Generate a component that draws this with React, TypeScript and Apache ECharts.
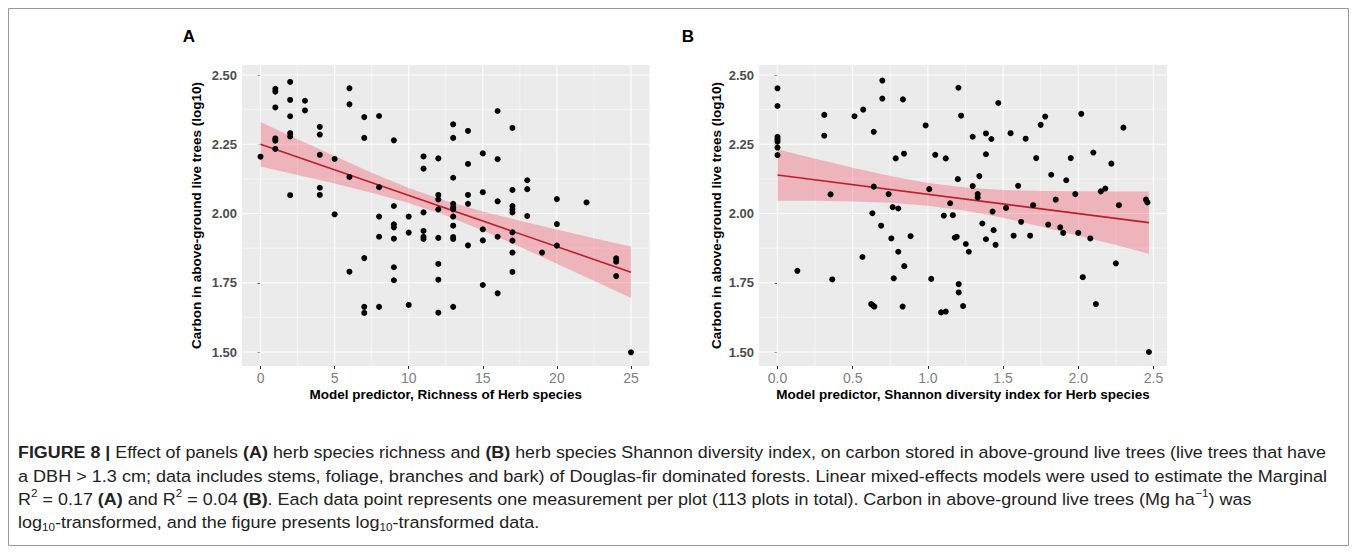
import React, { useEffect, useRef } from "react";
import * as echarts from "echarts";

// ---------- data ----------
const richnessTicks = [0, 5, 10, 15, 20, 25];
const richnessMinor = [2.5, 7.5, 12.5, 17.5, 22.5];
const shannonTicks = [0, 0.5, 1, 1.5, 2, 2.5];
const shannonMinor = [0.25, 0.75, 1.25, 1.75, 2.25];
const carbonTicks = [1.5, 1.75, 2, 2.25, 2.5];
const carbonMinor = [1.625, 1.875, 2.125, 2.375];

const richnessPoints: [number, number][] = [
  [0, 2.205],
  [1, 2.45], [1, 2.44], [1, 2.383], [1, 2.271], [1, 2.263], [1, 2.233],
  [2, 2.475], [2, 2.41], [2, 2.351], [2, 2.29], [2, 2.278], [2, 2.066],
  [3, 2.407], [3, 2.372],
  [4, 2.313], [4, 2.285], [4, 2.212], [4, 2.093], [4, 2.067],
  [5, 2.197], [5, 1.997],
  [6, 2.452], [6, 2.394], [6, 2.132], [6, 1.79],
  [7, 2.348], [7, 2.273], [7, 1.839], [7, 1.663], [7, 1.641],
  [8, 2.352], [8, 2.095], [8, 1.989], [8, 1.916], [8, 1.663],
  [9, 2.264], [9, 2.027], [9, 1.961], [9, 1.95], [9, 1.909], [9, 1.806], [9, 1.759],
  [10, 1.989], [10, 1.931], [10, 1.67],
  [11, 2.206], [11, 2.162], [11, 2.004], [11, 1.937], [11, 1.916], [11, 1.908],
  [12, 2.199], [12, 2.067], [12, 2.051], [12, 2.015], [12, 1.912], [12, 1.818], [12, 1.761], [12, 1.642],
  [13, 2.322], [13, 2.273], [13, 2.129], [13, 2.035], [13, 2.022], [13, 2.015], [13, 1.989], [13, 1.956], [13, 1.915], [13, 1.908], [13, 1.663],
  [14, 2.298], [14, 2.179], [14, 2.067], [14, 2.035], [14, 1.885],
  [15, 2.217], [15, 2.077], [15, 1.943], [15, 1.903], [15, 1.742],
  [16, 2.37], [16, 2.196], [16, 2.044], [16, 1.916], [16, 1.712],
  [17, 2.309], [17, 2.085], [17, 2.027], [17, 2.015], [17, 2.004], [17, 1.932], [17, 1.902], [17, 1.859], [17, 1.789],
  [18, 2.12], [18, 2.088], [18, 1.991],
  [19, 1.859],
  [20, 2.052], [20, 1.962], [20, 1.884],
  [22, 2.04],
  [24, 1.838], [24, 1.826], [24, 1.774],
  [25, 1.499],
];

const shannonPoints: [number, number][] = [
  [0, 2.452], [0, 2.388], [0, 2.277], [0, 2.268], [0, 2.259], [0, 2.238], [0, 2.211],
  [0.132, 1.793], [0.311, 2.356], [0.311, 2.281], [0.353, 2.069], [0.364, 1.762],
  [0.512, 2.351], [0.565, 1.843], [0.57, 2.375], [0.623, 1.673], [0.636, 1.667], [0.644, 1.664],
  [0.631, 2.001], [0.64, 2.295], [0.64, 2.097], [0.689, 1.956], [0.697, 2.48], [0.697, 2.415],
  [0.739, 2.07], [0.757, 1.91], [0.766, 2.023], [0.773, 1.766], [0.786, 2.199], [0.803, 2.018],
  [0.803, 1.862], [0.832, 1.664], [0.834, 2.412], [0.841, 2.216], [0.843, 1.81], [0.885, 1.918],
  [0.985, 2.318], [1.009, 2.088], [1.022, 1.764], [1.049, 2.212], [1.088, 1.643], [1.106, 1.992],
  [1.119, 2.199], [1.119, 1.646], [1.148, 2.037], [1.166, 1.994], [1.179, 1.913], [1.192, 1.916],
  [1.199, 2.124], [1.203, 2.454], [1.205, 1.745], [1.205, 1.715], [1.221, 2.353], [1.234, 1.666],
  [1.252, 1.89], [1.272, 1.862], [1.298, 2.277], [1.298, 2.099], [1.331, 2.07], [1.331, 2.058],
  [1.342, 2.135], [1.362, 1.964], [1.386, 2.289], [1.386, 2.214], [1.386, 1.907], [1.422, 2.269],
  [1.43, 2.007], [1.437, 1.94], [1.45, 1.887], [1.468, 2.399],
  [1.52, 2.02], [1.55, 2.29], [1.57, 1.92], [1.6, 2.1], [1.62, 1.97], [1.65, 2.27], [1.68, 1.92],
  [1.7, 2.03], [1.72, 2.2], [1.75, 2.32], [1.78, 2.35], [1.8, 1.96], [1.82, 2.14], [1.85, 2.05],
  [1.88, 1.95], [1.9, 1.93], [1.92, 2.12], [1.95, 2.2], [1.98, 2.07], [2.0, 1.93], [2.02, 2.36],
  [2.03, 1.77], [2.08, 1.91], [2.1, 2.22], [2.117, 1.673], [2.15, 2.08], [2.18, 2.09], [2.22, 2.18],
  [2.25, 1.82], [2.27, 2.03], [2.3, 2.31], [2.45, 2.05], [2.46, 2.04], [2.47, 1.5],
];

const fitRichnessX = [0, 25];
const fitRichnessY = [2.25, 1.788];
const bandRichnessX = [0, 2.5, 5, 7.5, 10, 12.5, 15, 17.5, 20, 22.5, 25];
const bandRichnessUpper = [2.33, 2.268, 2.208, 2.147, 2.092, 2.045, 2.007, 1.974, 1.942, 1.911, 1.881];
const bandRichnessLower = [2.17, 2.139, 2.108, 2.075, 2.038, 1.993, 1.939, 1.88, 1.819, 1.757, 1.695];

const fitShannonX = [0, 2.47];
const fitShannonY = [2.139, 1.967];
const bandShannonX = [0, 0.25, 0.5, 0.75, 1, 1.25, 1.5, 1.75, 2, 2.25, 2.47];
const bandShannonUpper = [2.232, 2.198, 2.165, 2.135, 2.11, 2.094, 2.085, 2.081, 2.08, 2.079, 2.079];
const bandShannonLower = [2.046, 2.046, 2.043, 2.039, 2.028, 2.01, 1.985, 1.953, 1.92, 1.886, 1.855];

const xTitleA = "Model predictor, Richness of Herb species";
const xTitleB = "Model predictor, Shannon diversity index for Herb species";
const yTitle = "Carbon in above-ground live trees (log10)";

type Seg = [string, string];
const captionLines: Seg[][] = [
  [["b", "FIGURE 8 | "], ["n", "Effect of panels "], ["b", "(A)"], ["n", " herb species richness and "], ["b", "(B)"], ["n", " herb species Shannon diversity index, on carbon stored in above-ground live trees (live trees that have"]],
  [["n", "a DBH > 1.3 cm; data includes stems, foliage, branches and bark) of Douglas-fir dominated forests. Linear mixed-effects models were used to estimate the Marginal"]],
  [["n", "R"], ["sup", "2"], ["n", " = 0.17 "], ["b", "(A)"], ["n", " and R"], ["sup", "2"], ["n", " = 0.04 "], ["b", "(B)"], ["n", ". Each data point represents one measurement per plot (113 plots in total). Carbon in above-ground live trees (Mg ha"], ["sup", "\u22121"], ["n", ") was"]],
  [["n", "log"], ["sub", "10"], ["n", "-transformed, and the figure presents log"], ["sub", "10"], ["n", "-transformed data."]],
];

// ---------- layout ----------
const FONT = "Liberation Sans, Arial, sans-serif";
const Y_MIN = 1.4495;
const Y_MAX = 2.5361;
const gridA = { left: 242, top: 65, width: 407.5, height: 301 };
const gridB = { left: 759, top: 65, width: 408, height: 301 };
const CAP_SIZE = 17;
const capStyles: Record<string, { size: number; weight: string }> = {
  n: { size: CAP_SIZE, weight: "normal" },
  b: { size: CAP_SIZE, weight: "bold" },
  sup: { size: 11, weight: "normal" },
  sub: { size: 11, weight: "normal" },
};

function measureLine(segs: Seg[]): number {
  const c = document.createElement("canvas").getContext("2d");
  if (!c) return 1;
  let w = 0;
  for (const [k, t] of segs) {
    const s = capStyles[k];
    c.font = `${s.weight} ${s.size}px "Liberation Sans"`;
    w += c.measureText(t).width;
  }
  return w;
}

function gridData(vMajor: number[], vMinor: number[], hMajor: number[], hMinor: number[], xMid: number) {
  const ym = (Y_MIN + Y_MAX) / 2;
  return [
    ...vMinor.map((v) => [v, ym, 1]),
    ...hMinor.map((v) => [xMid, v, 3]),
    ...vMajor.map((v) => [v, ym, 0]),
    ...hMajor.map((v) => [xMid, v, 2]),
  ];
}

const gridRender = (params: any, api: any) => {
  const k = api.value(2);
  const cs = params.coordSys;
  const p = api.coord([api.value(0), api.value(1)]);
  const w = k % 2 === 0 ? 1.1 : 0.55;
  if (k < 2) {
    return { type: "line", shape: { x1: p[0], y1: cs.y, x2: p[0], y2: cs.y + cs.height }, style: { stroke: "#ffffff", lineWidth: w } };
  }
  return { type: "line", shape: { x1: cs.x, y1: p[1], x2: cs.x + cs.width, y2: p[1] }, style: { stroke: "#ffffff", lineWidth: w } };
};

const bandRender = (xs: number[], up: number[], lo: number[]) => (params: any, api: any) => {
  const pts: number[][] = [];
  for (let i = 0; i < xs.length; i++) pts.push(api.coord([xs[i], up[i]]));
  for (let i = xs.length - 1; i >= 0; i--) pts.push(api.coord([xs[i], lo[i]]));
  return { type: "polygon", shape: { points: pts }, style: { fill: "rgba(242, 55, 75, 0.3)" } };
};

function xAxis(gi: number, min: number, max: number, ticks: number[], fmt: (v: number) => string) {
  return {
    type: "value", gridIndex: gi, min, max,
    axisLine: { show: false },
    splitLine: { show: false },
    axisTick: { show: true, customValues: ticks, length: 3, lineStyle: { color: "#333", width: 1 } },
    axisLabel: { customValues: ticks, formatter: fmt, color: "#808080", fontSize: 14, fontFamily: FONT, margin: 5 },
  };
}
function yAxis(gi: number) {
  return {
    type: "value", gridIndex: gi, min: Y_MIN, max: Y_MAX,
    axisLine: { show: false },
    splitLine: { show: false },
    axisTick: { show: true, customValues: carbonTicks, length: 3, lineStyle: { color: "#333", width: 1 } },
    axisLabel: { customValues: carbonTicks, formatter: (v: number) => v.toFixed(2), color: "#4d4d4d", fontWeight: "bold", fontSize: 13, fontFamily: FONT, margin: 5 },
  };
}

export default function App() {
  const ref = useRef<HTMLDivElement>(null);
  useEffect(() => {
    if (!ref.current) return;
    const chart = echarts.init(ref.current, undefined, { renderer: "svg" });

    const w1 = measureLine(captionLines[0]);
    const w2 = measureLine(captionLines[1]);
    const s1 = 1309 / w1;
    const s2 = 1310 / w2;
    const sAvg = (s1 + s2) / 2;
    const scales = [s1, s2, sAvg, sAvg];
    const capY = [452, 476, 499, 522];
    const rich = {
      n: { fontSize: CAP_SIZE, fontFamily: FONT, fill: "#222", lineHeight: 22 },
      b: { fontSize: CAP_SIZE, fontFamily: FONT, fontWeight: "bold", fill: "#222", lineHeight: 22 },
      sup: { fontSize: 11, fontFamily: FONT, fill: "#222", lineHeight: 11, verticalAlign: "top" },
      sub: { fontSize: 11, fontFamily: FONT, fill: "#222", lineHeight: 11, verticalAlign: "bottom" },
    };
    const captionGraphics = captionLines.map((segs, i) => ({
      type: "text",
      x: 18,
      y: capY[i],
      scaleX: scales[i],
      style: {
        text: segs.map(([k, t]) => `{${k}|${t}}`).join(""),
        rich,
        textAlign: "left",
        textVerticalAlign: "middle",
      },
    }));

    const titleStyle = { fontFamily: FONT, fontWeight: "bold", fontSize: 13.5, fill: "#000", textAlign: "center", textVerticalAlign: "middle" };

    const option: any = {
      animation: false,
      backgroundColor: "#ffffff",
      grid: [
        { ...gridA, backgroundColor: "#EBEBEB", show: true, borderWidth: 0 },
        { ...gridB, backgroundColor: "#EBEBEB", show: true, borderWidth: 0 },
      ],
      xAxis: [
        xAxis(0, -1.25, 26.25, richnessTicks, (v: number) => String(v)),
        xAxis(1, -0.123, 2.59, shannonTicks, (v: number) => v.toFixed(1)),
      ],
      yAxis: [yAxis(0), yAxis(1)],
      series: [
        { type: "custom", xAxisIndex: 0, yAxisIndex: 0, z: 1, silent: true, renderItem: gridRender, data: gridData(richnessTicks, richnessMinor, carbonTicks, carbonMinor, 12.5) },
        { type: "custom", xAxisIndex: 1, yAxisIndex: 1, z: 1, silent: true, renderItem: gridRender, data: gridData(shannonTicks, shannonMinor, carbonTicks, carbonMinor, 1.2) },
        { type: "custom", xAxisIndex: 0, yAxisIndex: 0, z: 2, silent: true, renderItem: bandRender(bandRichnessX, bandRichnessUpper, bandRichnessLower), data: [[bandRichnessX[0], bandRichnessUpper[0]]] },
        { type: "custom", xAxisIndex: 1, yAxisIndex: 1, z: 2, silent: true, renderItem: bandRender(bandShannonX, bandShannonUpper, bandShannonLower), data: [[bandShannonX[0], bandShannonUpper[0]]] },
        { type: "line", xAxisIndex: 0, yAxisIndex: 0, z: 3, showSymbol: false, symbol: "none", lineStyle: { color: "#BE1E2A", width: 1.6 }, data: fitRichnessX.map((x, i) => [x, fitRichnessY[i]]) },
        { type: "line", xAxisIndex: 1, yAxisIndex: 1, z: 3, showSymbol: false, symbol: "none", lineStyle: { color: "#BE1E2A", width: 1.6 }, data: fitShannonX.map((x, i) => [x, fitShannonY[i]]) },
        { type: "scatter", xAxisIndex: 0, yAxisIndex: 0, z: 4, symbolSize: 6, itemStyle: { color: "#000", opacity: 1 }, data: richnessPoints },
        { type: "scatter", xAxisIndex: 1, yAxisIndex: 1, z: 4, symbolSize: 6, itemStyle: { color: "#000", opacity: 1 }, data: shannonPoints },
      ],
      graphic: [
        { type: "rect", shape: { x: 8.5, y: 8.5, width: 1340, height: 537 }, style: { fill: "none", stroke: "#999", lineWidth: 1 } },
        { type: "text", x: 189, y: 36, style: { text: "A", fontFamily: FONT, fontWeight: "bold", fontSize: 17, fill: "#000", textAlign: "center", textVerticalAlign: "middle" } },
        { type: "text", x: 688, y: 36, style: { text: "B", fontFamily: FONT, fontWeight: "bold", fontSize: 17, fill: "#000", textAlign: "center", textVerticalAlign: "middle" } },
        { type: "text", x: 445.75, y: 394, style: { ...titleStyle, text: xTitleA } },
        { type: "text", x: 963, y: 394, style: { ...titleStyle, text: xTitleB } },
        { type: "text", x: 196, y: 215.5, rotation: Math.PI / 2, style: { ...titleStyle, text: yTitle } },
        { type: "text", x: 716, y: 215.5, rotation: Math.PI / 2, style: { ...titleStyle, text: yTitle } },
        ...captionGraphics,
      ],
    };
    chart.setOption(option);
    return () => chart.dispose();
  }, []);
  return <div ref={ref} style={{ position: "fixed", left: 0, top: 0, width: 1357, height: 554, background: "#fff" }} />;
}
